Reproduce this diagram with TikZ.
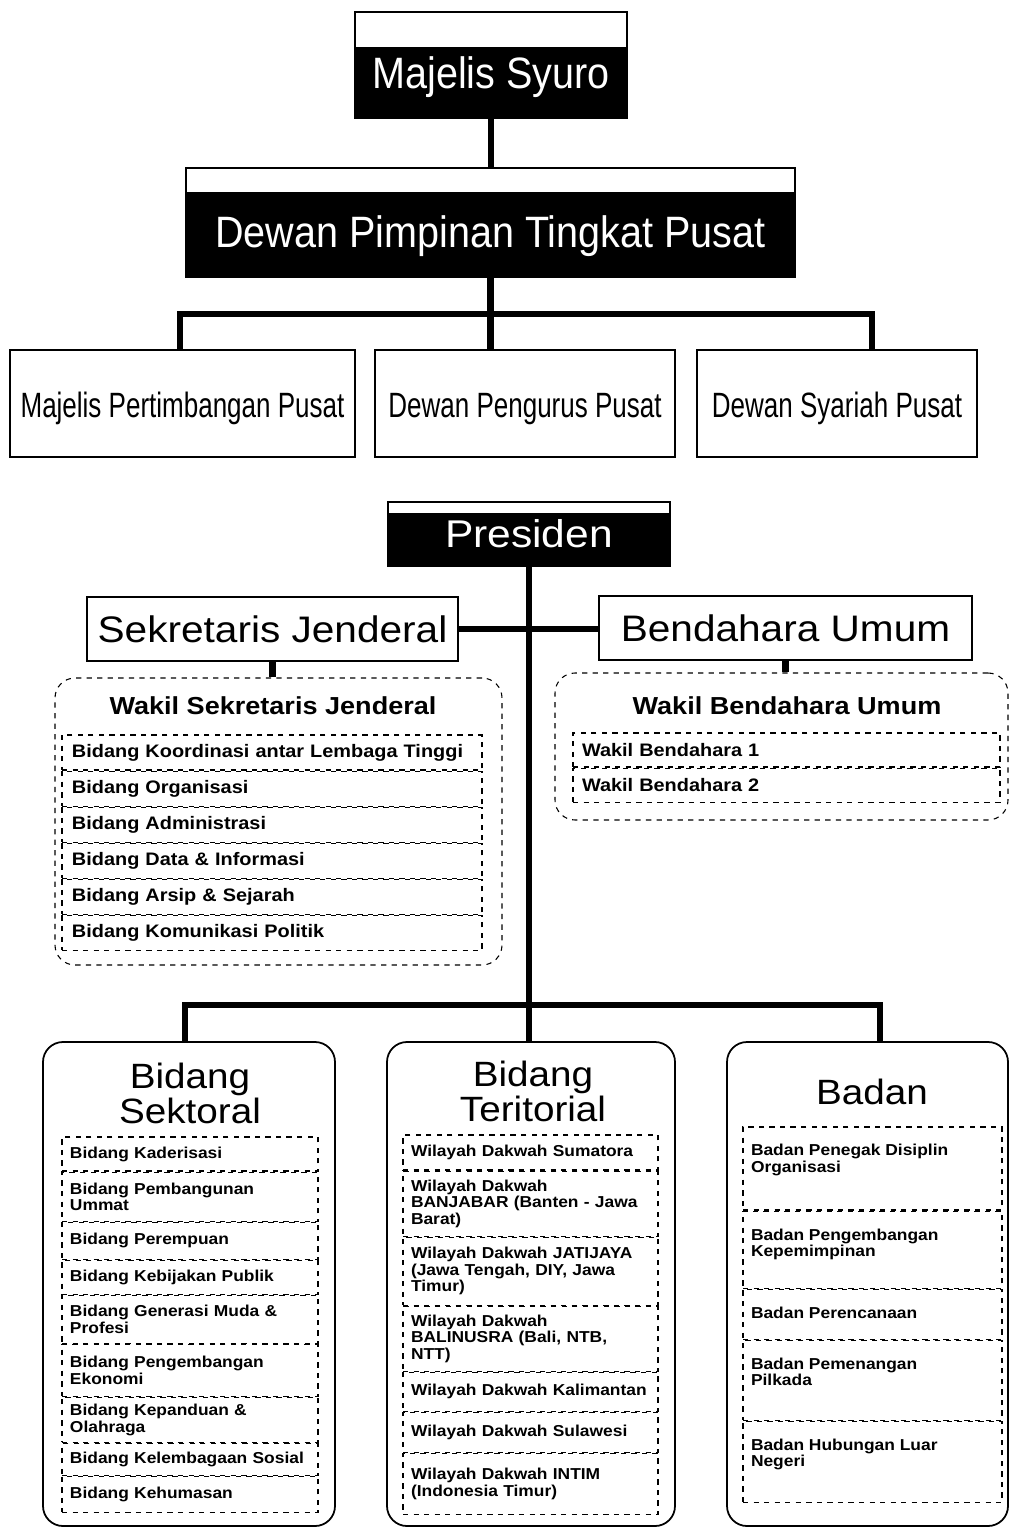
\documentclass[tikz,border=0pt]{standalone}
\usepackage{fontspec}
\setmainfont{Liberation Sans}[FakeStretch=1.1]
\newfontfamily\headfont{Liberation Sans}[FakeStretch=0.9]
\newfontfamily\narrowfont{Liberation Sans}[FakeStretch=0.74]
\usetikzlibrary{positioning}
\newcommand{\badantext}[2]{\parbox[c][#1][t]{48.6mm}{\raggedright #2}}

\begin{document}
\begin{tikzpicture}[x=0.2mm, y=-0.2mm,
	headbox/.style={draw, line width=0.8pt, path picture={\fill (path picture bounding box.south west) rectangle ([yshift=#1]path picture bounding box.south east);}},
	headtext/.style={text=white, font=\headfont\fontsize{25}{28}\selectfont},
	unit/.style={draw, line width=0.8pt, minimum height=21.4mm, text height=21pt, text depth=4.5pt, font=\narrowfont\fontsize{20}{22}\selectfont},
	officer/.style={draw, line width=0.8pt, minimum height=12.8mm, font=\fontsize{21}{24}\selectfont},
	trunk/.style={line width=3.5pt},
	wakilbox/.style={draw, dashed, rounded corners=4mm, line width=0.6pt},
	wakiltitle/.style={font=\bfseries\fontsize{14}{16}\selectfont},
	sjitem/.style={draw, dashed, line width=0.6pt, font=\bfseries\fontsize{10.3}{11}\selectfont, text width=80mm, align=left, inner xsep=2mm, inner ysep=0pt, minimum height=7mm},
	buitem/.style={sjitem, text width=81.8mm, inner xsep=1.8mm, minimum height=6.8mm},
	division/.style={draw, rounded corners=4mm, line width=1pt, minimum height=96.8mm},
	divtitle/.style={font=\fontsize{20}{20}\selectfont, align=center},
	subitem/.style={draw, dashed, line width=0.6pt, font=\bfseries\fontsize{9}{9.3}\selectfont, text width=48mm, align=left, inner xsep=1.6mm, inner ysep=0pt, minimum height=6.8mm},
	badanitem/.style={draw, dashed, line width=0.6pt, font=\bfseries\fontsize{9}{9.3}\selectfont, inner xsep=1.6mm, inner ysep=3.5mm}]
	\useasboundingbox (0,0) rectangle (1010,1531);

	\node[headbox=14.2mm, minimum width=54.4mm, minimum height=21.2mm, label={[headtext, yshift=-2.4mm]center:Majelis Syuro}] (syuro) at (491,65) {};
	\node[headbox=17mm, minimum width=121.8mm, minimum height=21.8mm, label={[headtext, yshift=-2.7mm]center:Dewan Pimpinan Tingkat Pusat}] (dpt) at (490.5,222.5) {};
	\node[unit, minimum width=69mm] (mpp) at (182.5,403.5) {Majelis Pertimbangan Pusat};
	\node[unit, minimum width=60mm] (dpp) at (525,403.5) {Dewan Pengurus Pusat};
	\node[unit, minimum width=56mm] (dsp) at (837,403.5) {Dewan Syariah Pusat};
	\coordinate (barL) at (180,314);
	\coordinate (barR) at (872,314);
	\draw[trunk] (syuro.south) -- (syuro.south |- dpt.north);
	\draw[trunk] (dpt.south) -- (dpt.south |- dpp.north);
	\draw[trunk] (mpp.north -| barL) -- (barL) -- (barR) -- (dsp.north -| barR);

	\node[headbox=10.6mm, minimum width=56.4mm, minimum height=12.8mm, text=white, font=\fontsize{22}{24}\selectfont] (pres) at (529,534) {Presiden};
	\node[officer, minimum width=74.2mm] (sj) at (272.5,629) {Sekretaris Jenderal};
	\node[officer, minimum width=74.6mm] (bu) at (785.5,628) {Bendahara Umum};
	\draw[trunk] (sj.east) -- (sj.east -| bu.west);

	\node[wakilbox, minimum width=89.4mm, minimum height=57.4mm] (wsj) at (278.5,821.5) {};
	\node[wakiltitle] (wsjt) at (273,706) {Wakil Sekretaris Jenderal};
	\node[sjitem] (s1) at (272,752.5) {Bidang Koordinasi antar Lembaga Tinggi};
	\node[sjitem, below=0pt of s1] (s2) {Bidang Organisasi};
	\node[sjitem, below=0pt of s2] (s3) {Bidang Administrasi};
	\node[sjitem, below=0pt of s3] (s4) {Bidang Data \& Informasi};
	\node[sjitem, below=0pt of s4] (s5) {Bidang Arsip \& Sejarah};
	\node[sjitem, below=0pt of s5] (s6) {Bidang Komunikasi Politik};
	\draw[trunk] (sj.south) -- (sj.south |- wsj.north);

	\node[wakilbox, minimum width=90.6mm, minimum height=29.4mm] (wbu) at (781.5,746.5) {};
	\node[wakiltitle] (wbut) at (787,706) {Wakil Bendahara Umum};
	\node[buitem] (b1) at (786.5,750) {Wakil Bendahara 1};
	\node[buitem, below=0pt of b1] (b2) {Wakil Bendahara 2};
	\draw[trunk] (bu.south) -- (bu.south |- wbu.north);

	\node[division, minimum width=58.4mm] (sek) at (189,1284) {};
	\node[divtitle] (sekt) at (190,1093) {Bidang\\Sektoral};
	\node[division, minimum width=57.6mm] (ter) at (531,1284) {};
	\node[divtitle] (tert) at (533,1091) {Bidang\\Teritorial};
	\node[division, minimum width=56.2mm] (badan) at (867.5,1284) {};
	\node[divtitle] (badant) at (872,1092) {Badan};
	\coordinate (barSL) at (185,1005);
	\coordinate (barSR) at (880,1005);
	\draw[trunk] (pres.south) -- (pres.south |- ter.north);
	\draw[trunk] (sek.north -| barSL) -- (barSL) -- (barSR) -- (badan.north -| barSR);

	\node[subitem] (k1) at (190,1154) {Bidang Kaderisasi};
	\node[subitem, below=0pt of k1, minimum height=9.8mm] (k2) {Bidang Pembangunan\\Ummat};
	\node[subitem, below=0pt of k2, minimum height=7.4mm] (k3) {Bidang Perempuan};
	\node[subitem, below=0pt of k3] (k4) {Bidang Kebijakan Publik};
	\node[subitem, below=0pt of k4, minimum height=9.6mm] (k5) {Bidang Generasi Muda \&\\Profesi};
	\node[subitem, below=0pt of k5, minimum height=10.4mm] (k6) {Bidang Pengembangan\\Ekonomi};
	\node[subitem, below=0pt of k6, minimum height=9mm] (k7) {Bidang Kepanduan \&\\Olahraga};
	\node[subitem, below=0pt of k7, minimum height=6.4mm] (k8) {Bidang Kelembagaan Sosial};
	\node[subitem, below=0pt of k8, minimum height=7.2mm] (k9) {Bidang Kehumasan};

	\node[subitem, text width=47.8mm, minimum height=7mm] (w1) at (530.5,1152.5) {Wilayah Dakwah Sumatora};
	\node[subitem, text width=47.8mm, below=0pt of w1, minimum height=13mm] (w2) {Wilayah Dakwah\\BANJABAR (Banten - Jawa\\Barat)};
	\node[subitem, text width=47.8mm, below=0pt of w2, minimum height=13.6mm] (w3) {Wilayah Dakwah JATIJAYA\\(Jawa Tengah, DIY, Jawa\\Timur)};
	\node[subitem, text width=47.8mm, below=0pt of w3, minimum height=13mm] (w4) {Wilayah Dakwah\\BALINUSRA (Bali, NTB,\\NTT)};
	\node[subitem, text width=47.8mm, below=0pt of w4, minimum height=7.8mm] (w5) {Wilayah Dakwah Kalimantan};
	\node[subitem, text width=47.8mm, below=0pt of w5, minimum height=8mm] (w6) {Wilayah Dakwah Sulawesi};
	\node[subitem, text width=47.8mm, below=0pt of w6, minimum height=12.2mm] (w7) {Wilayah Dakwah INTIM\\(Indonesia Timur)};

	\node[badanitem] (d1) at (872.5,1168.5) {\badantext{9.6mm}{Badan Penegak Disiplin\\Organisasi}};
	\node[badanitem, below=0pt of d1] (d2) {\badantext{8.4mm}{Badan Pengembangan\\Kepemimpinan}};
	\node[badanitem, below=0pt of d2] (d3) {\badantext{3mm}{Badan Perencanaan}};
	\node[badanitem, below=0pt of d3] (d4) {\badantext{9mm}{Badan Pemenangan\\Pilkada}};
	\node[badanitem, below=0pt of d4] (d5) {\badantext{9.2mm}{Badan Hubungan Luar\\Negeri}};
\end{tikzpicture}
\end{document}
